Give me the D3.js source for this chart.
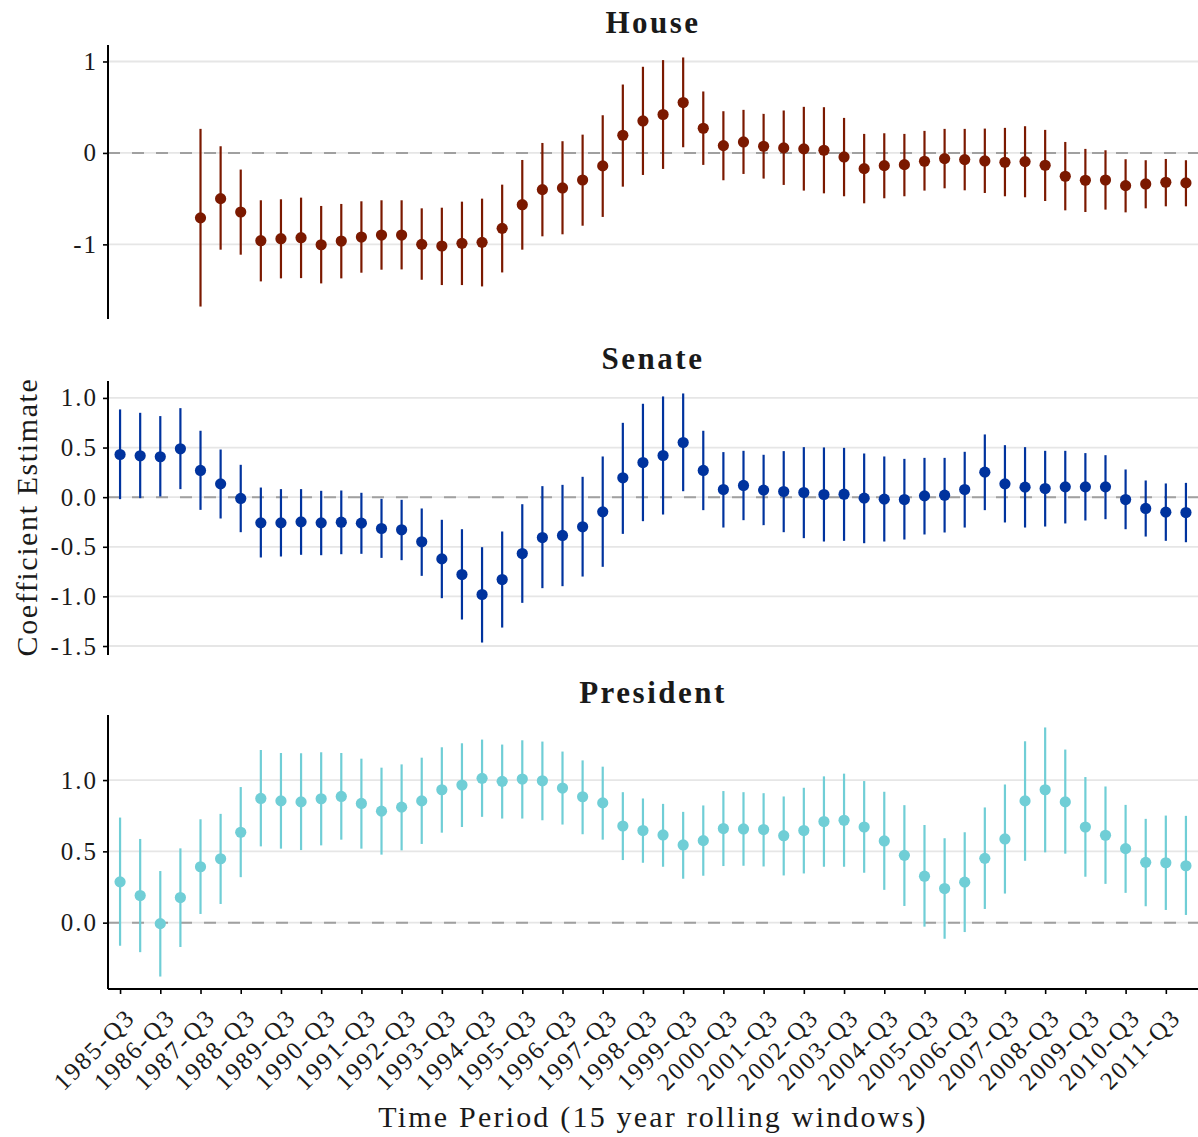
<!DOCTYPE html>
<html>
<head>
<meta charset="utf-8">
<script src="https://cdn.jsdelivr.net/npm/d3@7"></script>
<style>
  html, body { margin: 0; padding: 0; background: #fff; }
  svg text { font-family: "Liberation Serif", "Times New Roman", serif; fill: #1a1a1a; }
</style>
</head>
<body>
<svg id="chart" width="1198" height="1137"></svg>
<script>
// Rolling 15-year windows, one estimate every half year
const periods = [
  "1985-Q3","1986-Q1","1986-Q3","1987-Q1","1987-Q3","1988-Q1","1988-Q3","1989-Q1","1989-Q3","1990-Q1",
  "1990-Q3","1991-Q1","1991-Q3","1992-Q1","1992-Q3","1993-Q1","1993-Q3","1994-Q1","1994-Q3","1995-Q1",
  "1995-Q3","1996-Q1","1996-Q3","1997-Q1","1997-Q3","1998-Q1","1998-Q3","1999-Q1","1999-Q3","2000-Q1",
  "2000-Q3","2001-Q1","2001-Q3","2002-Q1","2002-Q3","2003-Q1","2003-Q3","2004-Q1","2004-Q3","2005-Q1",
  "2005-Q3","2006-Q1","2006-Q3","2007-Q1","2007-Q3","2008-Q1","2008-Q3","2009-Q1","2009-Q3","2010-Q1",
  "2010-Q3","2011-Q1","2011-Q3","2012-Q1"
];
const tickPeriods = [
  "1985-Q3","1986-Q3","1987-Q3","1988-Q3","1989-Q3","1990-Q3","1991-Q3","1992-Q3","1993-Q3","1994-Q3",
  "1995-Q3","1996-Q3","1997-Q3","1998-Q3","1999-Q3","2000-Q3","2001-Q3","2002-Q3","2003-Q3","2004-Q3",
  "2005-Q3","2006-Q3","2007-Q3","2008-Q3","2009-Q3","2010-Q3","2011-Q3"
];

// House
const houseEst = [null,null,null,null,-0.71,-0.50,-0.646,-0.96,-0.938,-0.927,-1.004,-0.964,-0.92,-0.898,-0.898,-1.0,-1.018,-0.989,-0.978,-0.825,
  -0.566,-0.401,-0.383,-0.296,-0.142,0.193,0.35,0.42,0.551,0.27,0.08,0.12,0.073,0.055,0.044,0.029,-0.044,-0.172,-0.139,-0.128,
  -0.091,-0.062,-0.073,-0.088,-0.102,-0.095,-0.135,-0.255,-0.299,-0.296,-0.358,-0.339,-0.321,-0.328];
const houseHi = [null,null,null,null,0.263,0.073,-0.182,-0.518,-0.507,-0.489,-0.58,-0.558,-0.529,-0.518,-0.518,-0.606,-0.599,-0.533,-0.5,-0.347,
  -0.077,0.109,0.128,0.2,0.412,0.748,0.942,1.015,1.044,0.672,0.456,0.471,0.427,0.464,0.504,0.5,0.383,0.208,0.215,0.208,
  0.241,0.263,0.263,0.266,0.274,0.292,0.252,0.12,0.044,0.029,-0.069,-0.08,-0.066,-0.08];
const houseLo = [null,null,null,null,-1.68,-1.058,-1.113,-1.405,-1.372,-1.369,-1.427,-1.372,-1.31,-1.277,-1.274,-1.387,-1.445,-1.445,-1.46,-1.307,
  -1.058,-0.912,-0.89,-0.796,-0.70,-0.369,-0.241,-0.175,0.062,-0.131,-0.299,-0.23,-0.281,-0.35,-0.412,-0.442,-0.474,-0.551,-0.496,-0.474,
  -0.412,-0.387,-0.409,-0.438,-0.474,-0.485,-0.526,-0.628,-0.646,-0.62,-0.65,-0.606,-0.584,-0.584];

// Senate
const senateEst = [0.43,0.417,0.407,0.487,0.269,0.134,-0.013,-0.259,-0.259,-0.249,-0.259,-0.252,-0.262,-0.316,-0.329,-0.45,-0.622,-0.78,-0.981,-0.83,
  -0.568,-0.407,-0.386,-0.299,-0.148,0.195,0.349,0.42,0.551,0.269,0.077,0.118,0.071,0.057,0.047,0.027,0.03,-0.01,-0.02,-0.024,
  0.013,0.02,0.077,0.252,0.134,0.101,0.087,0.104,0.104,0.104,-0.024,-0.114,-0.151,-0.155];
const senateHi = [0.884,0.85,0.817,0.897,0.669,0.48,0.326,0.097,0.081,0.081,0.064,0.067,0.044,-0.017,-0.027,-0.114,-0.228,-0.323,-0.504,-0.346,
  -0.071,0.111,0.124,0.205,0.41,0.749,0.941,1.015,1.045,0.669,0.454,0.467,0.427,0.464,0.504,0.501,0.497,0.44,0.41,0.386,
  0.396,0.396,0.457,0.632,0.524,0.504,0.467,0.467,0.444,0.423,0.279,0.168,0.138,0.144];
const senateLo = [-0.02,-0.01,0.007,0.081,-0.128,-0.215,-0.353,-0.608,-0.598,-0.581,-0.585,-0.575,-0.571,-0.612,-0.635,-0.793,-1.018,-1.233,-1.465,-1.314,
  -1.065,-0.917,-0.897,-0.8,-0.702,-0.37,-0.242,-0.175,0.06,-0.131,-0.306,-0.232,-0.282,-0.353,-0.413,-0.447,-0.44,-0.464,-0.447,-0.427,
  -0.376,-0.356,-0.306,-0.131,-0.255,-0.306,-0.296,-0.265,-0.235,-0.222,-0.323,-0.397,-0.44,-0.454];

// President
const presEst = [0.286,0.19,-0.007,0.176,0.392,0.448,0.634,0.871,0.854,0.847,0.869,0.885,0.836,0.782,0.81,0.854,0.932,0.965,1.012,0.991,
  1.007,0.995,0.944,0.883,0.84,0.678,0.646,0.615,0.545,0.575,0.66,0.657,0.653,0.61,0.646,0.709,0.718,0.671,0.573,0.472,
  0.326,0.239,0.284,0.451,0.587,0.854,0.932,0.847,0.671,0.613,0.519,0.423,0.42,0.399];
const presHi = [0.737,0.587,0.362,0.521,0.725,0.763,0.951,1.211,1.19,1.188,1.195,1.19,1.15,1.087,1.11,1.157,1.23,1.258,1.284,1.249,
  1.279,1.27,1.2,1.138,1.094,0.915,0.871,0.833,0.777,0.822,0.923,0.915,0.908,0.885,0.946,1.026,1.045,0.993,0.918,0.824,
  0.685,0.592,0.634,0.808,0.969,1.272,1.369,1.214,1.021,0.955,0.826,0.728,0.751,0.749];
const presLo = [-0.162,-0.207,-0.378,-0.171,0.061,0.131,0.319,0.535,0.519,0.509,0.542,0.582,0.519,0.477,0.507,0.552,0.631,0.671,0.742,0.73,
  0.73,0.718,0.688,0.62,0.582,0.439,0.42,0.392,0.308,0.329,0.397,0.399,0.394,0.331,0.345,0.392,0.392,0.35,0.23,0.117,
  -0.028,-0.113,-0.066,0.096,0.204,0.434,0.493,0.484,0.322,0.272,0.209,0.115,0.089,0.054];

const houseTicks = [-1, 0, 1];
const senateTicks = [-1.5, -1.0, -0.5, 0.0, 0.5, 1.0];
const presTicks = [0.0, 0.5, 1.0];

const panels = [
  { title: "House", est: houseEst, lo: houseLo, hi: houseHi, ticks: houseTicks, fmt: d3.format("d"), color: "#7b1900", top: 45 },
  { title: "Senate", est: senateEst, lo: senateLo, hi: senateHi, ticks: senateTicks, fmt: d3.format(".1f"), color: "#00339e", top: 381 },
  { title: "President", est: presEst, lo: presLo, hi: presHi, ticks: presTicks, fmt: d3.format(".1f"), color: "#70ced6", top: 715 }
];

const svg = d3.select("#chart");
const left = 108, right = 1198, panelH = 274;
const x = d3.scalePoint().domain(periods).range([left, right]).padding(0.6);
const tickLS = 2;

panels.forEach((p, pi) => {
  const rows = periods.map((d, i) => ({ period: d, est: p.est[i], lo: p.lo[i], hi: p.hi[i] }))
    .filter(r => r.est !== null);
  const lo = d3.min(rows, r => r.lo), hi = d3.max(rows, r => r.hi);
  const pad = (hi - lo) * 0.05;
  const y = d3.scaleLinear().domain([lo - pad, hi + pad]).range([p.top + panelH, p.top]);
  const g = svg.append("g");

  // horizontal grid
  g.selectAll("line.grid").data(p.ticks).join("line")
    .attr("x1", left).attr("x2", right)
    .attr("y1", d => y(d)).attr("y2", d => y(d))
    .attr("stroke", "#e6e6e6").attr("stroke-width", 1.8);

  // zero reference
  g.append("line")
    .attr("x1", left).attr("x2", right)
    .attr("y1", y(0)).attr("y2", y(0))
    .attr("stroke", "#a0a0a0").attr("stroke-width", 2)
    .attr("stroke-dasharray", "12,12");

  // y axis
  const yAxis = d3.axisLeft(y).tickValues(p.ticks).tickFormat(p.fmt).tickSize(5).tickPadding(7);
  const ag = g.append("g").attr("transform", `translate(${left},0)`).call(yAxis);
  ag.select(".domain").attr("stroke", "#000").attr("stroke-width", 2)
    .attr("d", `M0,${p.top}V${p.top + panelH}`);
  ag.selectAll(".tick line").attr("stroke", "#000").attr("stroke-width", 1.6);
  ag.selectAll(".tick text")
    .style("font-family", '"Liberation Serif", serif')
    .style("font-size", "25px").style("letter-spacing", tickLS + "px")
    .attr("fill", "#1a1a1a").attr("dx", tickLS)
    .text(d => p.fmt(d).replace("\u2212", "-"));

  // confidence intervals
  g.selectAll("line.ci").data(rows).join("line")
    .attr("x1", d => x(d.period)).attr("x2", d => x(d.period))
    .attr("y1", d => y(d.lo)).attr("y2", d => y(d.hi))
    .attr("stroke", p.color).attr("stroke-width", 2.2);

  // point estimates
  g.selectAll("circle").data(rows).join("circle")
    .attr("cx", d => x(d.period)).attr("cy", d => y(d.est))
    .attr("r", 5.6).attr("fill", p.color);

  // panel title
  svg.append("text")
    .attr("x", (left + right) / 2).attr("y", p.top - 12.5)
    .attr("text-anchor", "middle")
    .style("font-size", "31px").style("font-weight", "bold").style("letter-spacing", "2.5px")
    .attr("fill", "#222")
    .text(p.title);

  // x axis on the bottom panel only
  if (pi === panels.length - 1) {
    const base = p.top + panelH;
    const xAxis = d3.axisBottom(x).tickValues(tickPeriods).tickSize(5).tickFormat(d => d);
    const xg = svg.append("g").attr("transform", `translate(0,${base})`).call(xAxis);
    xg.select(".domain").attr("stroke", "#000").attr("stroke-width", 2)
      .attr("d", `M${left},0H${right}`);
    xg.selectAll(".tick line").attr("stroke", "#000").attr("stroke-width", 1.6);
    xg.selectAll(".tick text")
      .style("font-family", '"Liberation Serif", serif')
      .style("font-size", "25px").style("letter-spacing", tickLS + "px")
      .attr("fill", "#1a1a1a")
      .attr("text-anchor", "end")
      .attr("y", 0).attr("dy", "0.68em")
      .attr("transform", `translate(${2 + tickLS},18) rotate(-45)`);
  }
});

// axis titles
svg.append("text")
  .attr("transform", "translate(37,517) rotate(-90)")
  .attr("text-anchor", "middle")
  .style("font-size", "30px").style("letter-spacing", "1.6px")
  .text("Coefficient Estimate");

svg.append("text")
  .attr("x", 653).attr("y", 1127)
  .attr("text-anchor", "middle")
  .style("font-size", "30px").style("letter-spacing", "2.2px")
  .text("Time Period (15 year rolling windows)");
</script>
</body>
</html>
